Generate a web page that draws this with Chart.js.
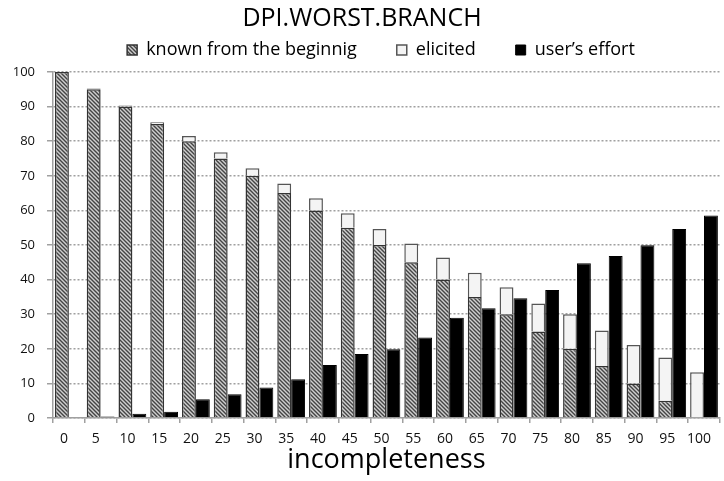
<!DOCTYPE html>
<html><head><meta charset="utf-8">
<script src="https://cdn.jsdelivr.net/npm/chart.js@4.4.1/dist/chart.umd.min.js"></script>
<style>html,body{margin:0;padding:0;background:#fff}</style>
</head><body>
<canvas id="c" width="724" height="481" style="display:block"></canvas>
<script>
const categories = ['0','5','10','15','20','25','30','35','40','45','50','55','60','65','70','75','80','85','90','95','100'];
const knownFromBeginning = [100,95,90,85,80,75,70,65,60,55,50,45,40,35,30,25,20,15,10,5,0];
const elicited = [0,0.2,0.3,0.5,1.5,1.8,2.2,2.8,3.5,4.2,4.6,5.4,6.4,7.0,7.8,8.1,10.0,10.3,11.1,12.5,13.2];
const usersEffort = [0,0.4,1.2,1.8,5.4,6.9,8.8,11.2,15.3,18.5,19.9,23.3,29.0,31.7,34.6,37.0,44.7,46.8,49.9,54.6,58.5];
const seriesNames = ['known from the beginnig','elicited','user\u2019s effort'];
const yMin = 0, yMax = 100, yStep = 10;

const FONT = "'Open Sans', sans-serif";

function hatchPattern() {
  const s = 4;
  const t = document.createElement('canvas');
  t.width = s; t.height = s;
  const g = t.getContext('2d');
  g.fillStyle = '#cfcfcf';
  g.fillRect(0, 0, s, s);
  g.strokeStyle = '#444';
  g.lineWidth = 1.4;
  g.beginPath();
  g.moveTo(0, 0); g.lineTo(s, s);
  g.moveTo(-1, s - 1); g.lineTo(1, s + 1);
  g.moveTo(s - 1, -1); g.lineTo(s + 1, 1);
  g.stroke();
  return document.getElementById('c').getContext('2d').createPattern(t, 'repeat');
}

const LEGEND_H = 35;
const legendTweak = {
  id: 'legendTweak',
  afterInit(chart) {
    const lg = chart.legend;
    if (!lg) return;
    const fit = lg.fit.bind(lg);
    lg.fit = function () { fit(); this.height = LEGEND_H; };
  },
  afterLayout(chart) {
    const lg = chart.legend;
    if (!lg) return;
    lg.top = 1; lg.bottom = 70;
    lg.left += 19; lg.right += 19;
  }
};

const grid = '#a0a0a0';

new Chart(document.getElementById('c'), {
  type: 'bar',
  data: {
    labels: categories,
    datasets: [
      { label: seriesNames[0], data: knownFromBeginning, stack: 'a',
        backgroundColor: hatchPattern(), borderColor: '#333', borderWidth: 1.5 },
      { label: seriesNames[1], data: elicited, stack: 'a',
        backgroundColor: '#f4f4f4', borderColor: '#555', borderWidth: 1.5 },
      { label: seriesNames[2], data: usersEffort, stack: 'b',
        backgroundColor: '#000', borderColor: '#000', borderWidth: 1 }
    ]
  },
  options: {
    responsive: false,
    animation: false,
    devicePixelRatio: 1,
    categoryPercentage: 0.875,
    barPercentage: 1.0,
    layout: { padding: { left: 0, right: 0, top: 0, bottom: 0 } },
    plugins: {
      title: {
        display: true, text: 'DPI.WORST.BRANCH', color: '#000',
        font: { family: FONT, size: 25, weight: 'normal' },
        padding: { top: 4, bottom: 3 }
      },
      legend: {
        display: true, position: 'top',
        labels: {
          color: '#000', font: { family: FONT, size: 18 },
          boxWidth: 10, boxHeight: 10, padding: 40
        }
      },
      tooltip: { enabled: false }
    },
    scales: {
      x: {
        afterFit(s) { s.height = 63; },
        grid: { display: true, drawOnChartArea: false, drawTicks: true, tickLength: 5, color: grid, lineWidth: 1.5, offset: true },
        border: { display: true, color: grid, width: 1.5, dash: [2, 2] },
        ticks: { color: '#111', font: { family: FONT, size: 14 }, padding: 8, labelOffset: -5, maxRotation: 0, autoSkip: false },
        title: { display: true, text: 'incompleteness', color: '#000', font: { family: FONT, size: 27 }, padding: { top: 0, bottom: 4 } }
      },
      y: {
        stacked: true,
        min: yMin, max: yMax,
        afterFit(s) { s.width = 53; },
        grid: { color: grid, lineWidth: 1.5, tickLength: 6 },
        border: { display: true, color: grid, width: 1.5, dash: [2, 2] },
        ticks: { stepSize: yStep, color: '#111', font: { family: FONT, size: 13 }, padding: 12 }
      }
    }
  },
  plugins: [legendTweak]
});
</script>
</body></html>
